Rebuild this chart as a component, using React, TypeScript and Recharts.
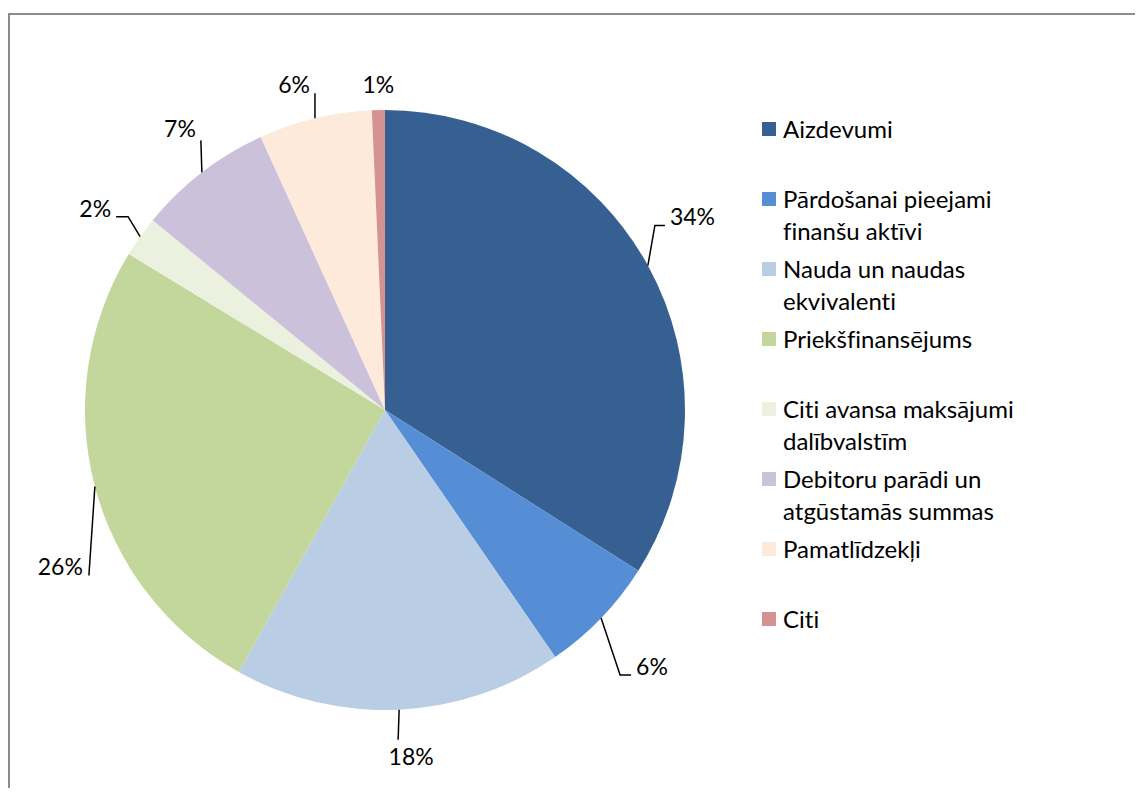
import React from "react";
import { PieChart, Pie, Cell, Legend } from "recharts";

const categories = [
  "Aizdevumi",
  "Pārdošanai pieejami finanšu aktīvi",
  "Nauda un naudas ekvivalenti",
  "Priekšfinansējums",
  "Citi avansa maksājumi dalībvalstīm",
  "Debitoru parādi un atgūstamās summas",
  "Pamatlīdzekļi",
  "Citi",
];
const shares = [34.0, 6.4, 17.7, 25.6, 2.2, 7.3, 6.1, 0.7];
const colors = ["#376092", "#558ED5", "#B9CDE5", "#C3D69B", "#EBF1DE", "#CCC1DA", "#FDEADA", "#D49391"];

// label leader layout (style config): elbow offset from slice edge, horizontal run, text offset & anchor
const LABEL_LAYOUT = [
  { dx: 7, dy: -40, h: 10, tx: 5, ty: 0, anchor: "start", line: true },
  { dx: 19, dy: 57, h: 11, tx: 5, ty: 0, anchor: "start", line: true },
  { dx: -1, dy: 30, h: 0, tx: 13, ty: 25, anchor: "middle", line: true },
  { dx: -6, dy: 89, h: 0, tx: -6, ty: 0, anchor: "end", line: true },
  { dx: -12, dy: -20, h: -12, tx: -5, ty: 0, anchor: "end", line: true },
  { dx: -1, dy: -32, h: 0, tx: -5, ty: -3, anchor: "end", line: true },
  { dx: 0, dy: -25, h: 0, tx: -5, ty: 0, anchor: "end", line: true },
  { dx: 0, dy: -17, h: 0, tx: 0, ty: 0, anchor: "middle", line: false },
];

const data = categories.map((name, i) => ({ name, value: shares[i] }));

const FONT = "Lato, 'Open Sans', sans-serif";
const RAD = Math.PI / 180;

const renderLabel = (props: any) => {
  const { cx, cy, midAngle, outerRadius, percent, index } = props;
  const ex = cx + outerRadius * Math.cos(-midAngle * RAD);
  const ey = cy + outerRadius * Math.sin(-midAngle * RAD);
  const L = LABEL_LAYOUT[index];
  const bx = ex + L.dx;
  const by = ey + L.dy;
  const fx = bx + L.h;
  const fy = by;
  return (
    <g key={`lbl-${index}`}>
      {L.line && (
        <polyline
          points={`${ex},${ey} ${bx},${by} ${fx},${fy}`}
          fill="none"
          stroke="#000"
          strokeWidth={1.5}
        />
      )}
      <text
        x={fx + L.tx}
        y={fy + L.ty}
        textAnchor={L.anchor as any}
        fontFamily={FONT}
        fontSize={23}
        fill="#000"
      >
        {`${Math.round(percent * 100)}%`}
      </text>
    </g>
  );
};

const renderLegend = () => (
  <div style={{ fontFamily: FONT, fontSize: 24, color: "#000", fontVariantLigatures: "none" }}>
    {data.map((d, i) => (
      <div
        key={d.name}
        style={{ position: "absolute", left: 0, top: i * 70, display: "flex", alignItems: "flex-start" }}
      >
        <div
          style={{
            width: 14,
            height: 14,
            background: colors[i],
            marginTop: 7,
            marginRight: 7,
            flex: "none",
          }}
        />
        <div style={{ width: 250, lineHeight: "32px", marginTop: -2 }}>{d.name}</div>
      </div>
    ))}
  </div>
);

export default function App() {
  return (
    <div style={{ position: "relative", width: 1127, height: 780, overflow: "hidden", background: "#fff" }}>
      <div
        style={{
          position: "absolute",
          left: 0,
          top: 5,
          width: 1300,
          height: 1000,
          borderLeft: "2px solid #8c8c8c",
          borderTop: "2px solid #8c8c8c",
        }}
      />
      <div style={{ position: "absolute", left: 0, top: 0 }}>
        <PieChart width={1127} height={780} margin={{ top: 0, right: 0, bottom: 0, left: 0 }}>
          <Pie
            data={data}
            dataKey="value"
            nameKey="name"
            cx={377}
            cy={402}
            outerRadius={300}
            startAngle={90}
            endAngle={-270}
            stroke="none"
            label={renderLabel}
            labelLine={false}
            isAnimationActive={false}
          >
            {data.map((d, i) => (
              <Cell key={d.name} fill={colors[i]} />
            ))}
          </Pie>
          <Legend
            content={renderLegend}
            wrapperStyle={{ position: "absolute", left: 754, top: 107, width: 300, height: 560 }}
          />
        </PieChart>
      </div>
    </div>
  );
}
